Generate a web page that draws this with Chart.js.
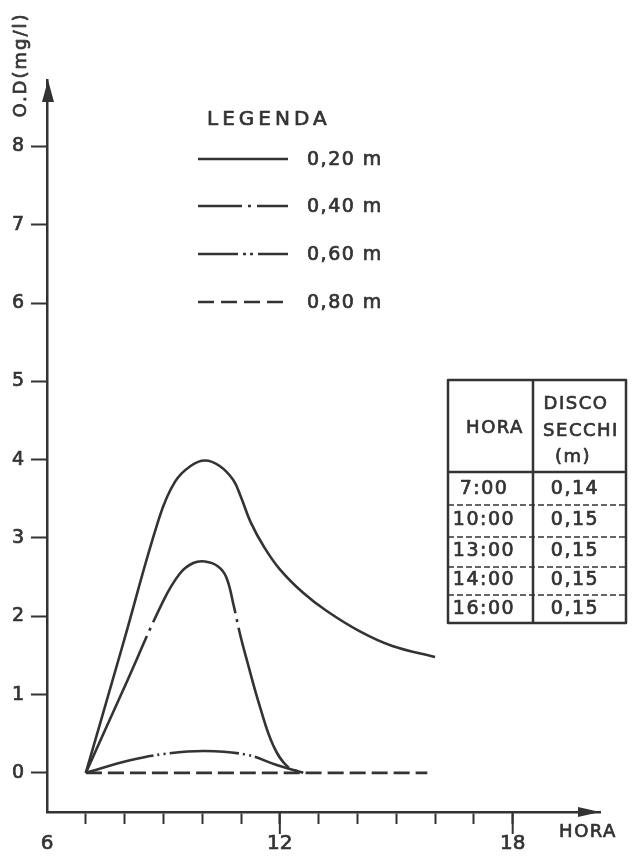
<!DOCTYPE html>
<html>
<head>
<meta charset="utf-8">
<script src="https://cdn.jsdelivr.net/npm/chart.js@4.4.1/dist/chart.umd.min.js"></script>
<style>
  html, body { margin: 0; padding: 0; background: #ffffff; }
  #wrap { position: relative; width: 635px; height: 856px; }
</style>
</head>
<body>
<div id="wrap"><canvas id="odChart"></canvas></div>
<script>
// O.D. (mg/l) ao longo do dia, por profundidade
const hours020 = [7, 7.95, 8.9, 9.3, 9.7, 10.07, 10.45, 10.8, 11.0, 11.25, 11.6, 12.0, 12.6, 13.2, 14.05, 14.9, 16.0];
const od020    = [0, 1.63, 3.27, 3.72, 3.92, 3.99, 3.92, 3.74, 3.52, 3.2, 2.88, 2.6, 2.3, 2.07, 1.81, 1.62, 1.48];

const hours040 = [7, 8.0, 9.0, 9.43, 9.77, 10.07, 10.4, 10.62, 10.8, 10.97, 11.15, 11.49, 11.83, 12.2, 12.6];
const od040    = [0, 1.1, 2.2, 2.55, 2.68, 2.7, 2.64, 2.5, 2.16, 1.78, 1.44, 0.84, 0.35, 0.08, 0];

const hours060 = [7, 8.14, 9.0, 10.07, 11.15, 11.92, 12.6];
const od060    = [0, 0.16, 0.24, 0.28, 0.23, 0.1, 0];

const hours080 = [7, 15.8];
const od080    = [0, 0];

const legendLabels = ['0,20 m', '0,40 m', '0,60 m', '0,80 m'];
const yTickValues = [0, 1, 2, 3, 4, 5, 6, 7, 8];
const xTickValues = [6, 7, 8, 9, 10, 11, 12, 13, 14, 15, 16, 17, 18];
const xLabelValues = [6, 12, 18];

const tableHora = ['7:00', '10:00', '13:00', '14:00', '16:00'];
const tableSecchi = ['0,14', '0,15', '0,15', '0,15', '0,15'];

const ink = '#333333';
const family = '"DejaVu Sans", sans-serif';

const pts = (xs, ys) => xs.map((x, i) => ({ x, y: ys[i] }));

const lineStyle = {
  borderColor: ink,
  borderWidth: 2.6,
  pointRadius: 0,
  fill: false,
  tension: 0.4,
};

// text with a thin outline so it reads as heavy as the lettering
function ink2(ctx, text, x, y) {
  ctx.fillText(text, x, y);
  ctx.strokeText(text, x, y);
}

// axis arrows, legend, table and loose labels
const decor = {
  id: 'decor',
  afterDraw(chart) {
    const { ctx, chartArea: a, scales } = chart;
    ctx.save();
    ctx.fillStyle = ink;
    ctx.strokeStyle = ink;

    // arrows
    ctx.beginPath();
    ctx.moveTo(a.left + 1, a.top);
    ctx.lineTo(a.left - 5, a.top + 22);
    ctx.lineTo(a.left + 7, a.top + 22);
    ctx.closePath();
    ctx.fill();
    ctx.beginPath();
    ctx.moveTo(a.right, a.bottom);
    ctx.lineTo(a.right - 22, a.bottom - 5);
    ctx.lineTo(a.right - 22, a.bottom + 5);
    ctx.closePath();
    ctx.fill();

    // longer ticks at 12 and 18
    ctx.lineWidth = 2;
    [12, 18].forEach((v) => {
      const x = scales.x.getPixelForValue(v);
      ctx.beginPath();
      ctx.moveTo(x, a.bottom);
      ctx.lineTo(x, a.bottom + 22);
      ctx.stroke();
    });

    ctx.textBaseline = 'middle';
    ctx.textAlign = 'center';
    ctx.lineWidth = 0.7;
    ctx.lineJoin = 'round';

    // axis titles
    ctx.font = `18px ${family}`;
    ctx.letterSpacing = '1.5px';
    ink2(ctx, 'HORA', 588, 832);
    ctx.save();
    ctx.translate(21, 65);
    ctx.rotate(-Math.PI / 2);
    ctx.letterSpacing = '2px';
    ink2(ctx, 'O.D(mg/l)', 0, 0);
    ctx.restore();

    // legend
    ctx.textAlign = 'left';
    ctx.font = `20px ${family}`;
    ctx.letterSpacing = '4px';
    ink2(ctx, 'LEGENDA', 207, 120);
    const rowsY = [159, 206, 254, 302];
    const legendDash = [[], [44, 6, 3, 6], [40, 5, 3, 4, 3, 5], [16, 7]];
    ctx.font = `19px ${family}`;
    ctx.letterSpacing = '1.5px';
    chart.data.datasets.forEach((ds, i) => {
      ctx.lineWidth = 2.6;
      ctx.setLineDash(legendDash[i]);
      ctx.beginPath();
      ctx.moveTo(198, rowsY[i]);
      ctx.lineTo(288, rowsY[i]);
      ctx.stroke();
      ctx.setLineDash([]);
      ctx.lineWidth = 0.7;
      ink2(ctx, legendLabels[i], 307, rowsY[i] + 1);
    });

    // Secchi table
    ctx.lineWidth = 2.5;
    ctx.strokeRect(448, 380, 178, 243);
    ctx.beginPath();
    ctx.moveTo(533, 380);
    ctx.lineTo(533, 623);
    ctx.moveTo(448, 472);
    ctx.lineTo(626, 472);
    ctx.stroke();
    ctx.lineWidth = 1.5;
    ctx.setLineDash([6, 3]);
    [505, 537, 567, 595].forEach((y) => {
      ctx.beginPath();
      ctx.moveTo(448, y);
      ctx.lineTo(626, y);
      ctx.stroke();
    });
    ctx.setLineDash([]);

    ctx.textAlign = 'center';
    ctx.lineWidth = 0.7;
    ctx.font = `18px ${family}`;
    ctx.letterSpacing = '1.5px';
    ink2(ctx, 'HORA', 495, 428);
    ink2(ctx, 'DISCO', 576, 404);
    ink2(ctx, 'SECCHI', 581, 431);
    ink2(ctx, '(m)', 573, 457);
    ctx.font = `19px ${family}`;
    const rowMid = [489, 520, 551, 580, 609];
    tableHora.forEach((h, i) => {
      ink2(ctx, h, 484, rowMid[i]);
      ink2(ctx, tableSecchi[i], 575, rowMid[i]);
    });
    ctx.restore();
  },
};

new Chart(document.getElementById('odChart'), {
  type: 'line',
  data: {
    datasets: [
      { ...lineStyle, label: legendLabels[0], data: pts(hours020, od020) },
      { ...lineStyle, label: legendLabels[1], data: pts(hours040, od040), borderDash: [150, 6, 3, 6] },
      { ...lineStyle, label: legendLabels[2], data: pts(hours060, od060), borderDash: [70, 4, 2, 4, 2, 4] },
      { ...lineStyle, label: legendLabels[3], data: pts(hours080, od080), borderDash: [16, 6] },
    ],
  },
  options: {
    responsive: true,
    maintainAspectRatio: false,
    animation: false,
    layout: { padding: { left: 0, top: 80, right: 35, bottom: 0 } },
    plugins: {
      legend: { display: false },
      tooltip: { enabled: false },
    },
    scales: {
      x: {
        type: 'linear',
        min: 6,
        max: 20.25,
        afterBuildTicks: (s) => { s.ticks = xTickValues.map((v) => ({ value: v })); },
        afterFit: (s) => { s.height = 44; },
        border: { display: true, color: ink, width: 2.5 },
        grid: {
          display: true,
          drawOnChartArea: false,
          drawTicks: true,
          tickLength: 12,
          tickWidth: 2,
          color: (c) => (c.tick && c.tick.value === 6 ? 'rgba(0,0,0,0)' : ink),
        },
        ticks: {
          autoSkip: false,
          maxRotation: 0,
          padding: 8,
          color: ink,
          textStrokeColor: ink,
          textStrokeWidth: 0.7,
          font: { family, size: 20 },
          callback: (v) => (xLabelValues.includes(v) ? String(v) : ''),
        },
      },
      y: {
        min: -0.5,
        max: 8.85,
        afterBuildTicks: (s) => { s.ticks = yTickValues.map((v) => ({ value: v })); },
        afterFit: (s) => { s.width = 47; },
        border: { display: true, color: ink, width: 2.5 },
        grid: {
          display: true,
          drawOnChartArea: false,
          drawTicks: true,
          tickLength: 16,
          tickWidth: 2,
          color: ink,
        },
        ticks: {
          padding: 7,
          color: ink,
          textStrokeColor: ink,
          textStrokeWidth: 0.7,
          font: { family, size: 19 },
        },
      },
    },
  },
  plugins: [decor],
});
</script>
</body>
</html>
